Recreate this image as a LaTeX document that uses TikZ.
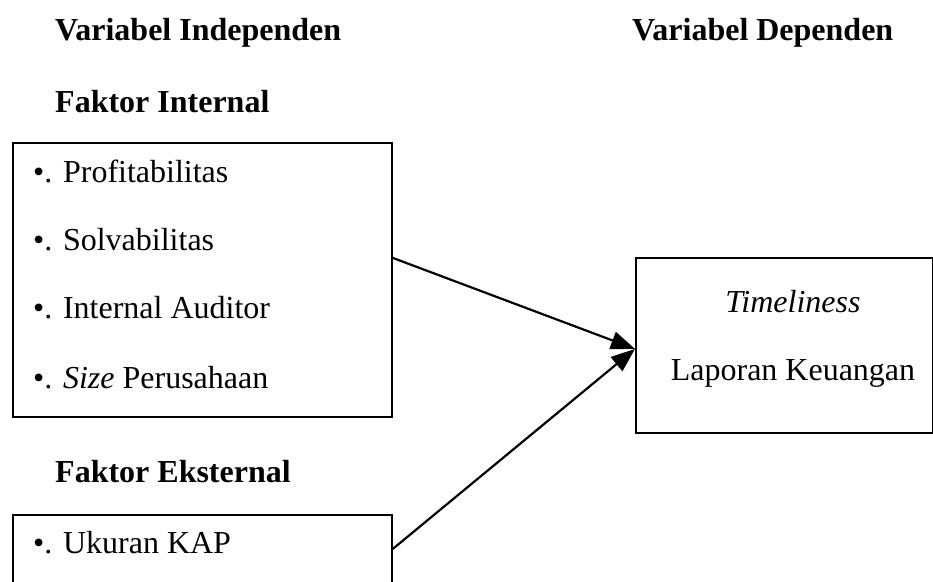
\documentclass[tikz,border=0pt]{standalone}
\usepackage{fontspec}
\setmainfont{Liberation Serif}
\usetikzlibrary{arrows.meta}
\begin{document}
\begin{tikzpicture}[x=1pt,y=-1pt,
  txt/.style={inner sep=0pt, font=\fontsize{32}{38}\selectfont, anchor=base west},
  head/.style={txt, font=\fontsize{32}{38}\selectfont\bfseries},
  box/.style={draw, line width=1.8pt, inner sep=0pt, anchor=north west},
  arr/.style={line width=2.2pt, -{Triangle[length=24pt,width=18pt]}}]
\useasboundingbox (0,0) rectangle (933,581);
\clip (0,0) rectangle (933,581);
% headings
\node[head] (hind) at (55,40) {Variabel Independen};
\node[head] (hdep) at (632,40) {Variabel Dependen};
\node[head] (hint) at (55,112) {Faktor Internal};
\node[head] (hext) at (55,482) {Faktor Eksternal};
% boxes
\node[box, minimum width=379pt, minimum height=274pt] (ib) at (12,142) {};
\node[box, minimum width=379pt, minimum height=96pt] (eb) at (12,514) {};
\node[box, minimum width=297pt, minimum height=175pt] (db) at (635,257) {};
% items
\node[txt] (i1) at (33,182) {•. Profitabilitas};
\node[txt] (i2) at (33,250) {•. Solvabilitas};
\node[txt] (i3) at (33,318) {•. Internal Auditor};
\node[txt] (i4) at (33,388) {•. \textit{Size} Perusahaan};
\node[txt] (e1) at (33,553) {•. Ukuran KAP};
\node[txt, anchor=base] (d1) at (793,312) {\textit{Timeliness}};
\node[txt, anchor=base] (d2) at (793,380) {Laporan Keuangan};
% arrows
\draw[arr] ([yshift=22pt]ib.east) -- ([yshift=-3.5pt]db.west);
\draw[arr] ([yshift=14pt]eb.east) -- ([yshift=-3.5pt]db.west);
\end{tikzpicture}
\end{document}
